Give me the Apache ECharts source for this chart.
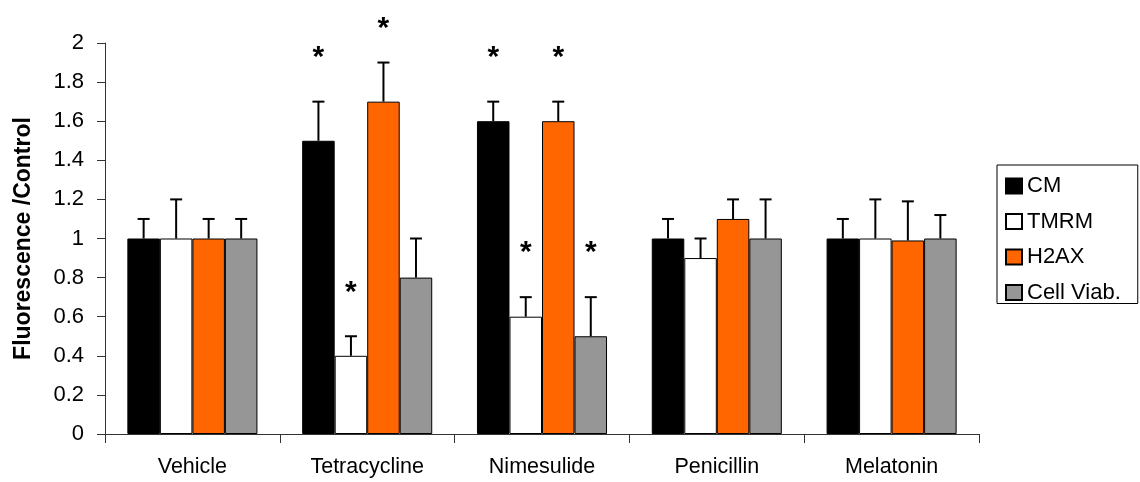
<!DOCTYPE html>
<html>
<head>
<meta charset="utf-8">
<script src="https://cdn.jsdelivr.net/npm/echarts@6/dist/echarts.min.js"></script>
<style>
html,body{margin:0;padding:0;background:#fff;}
#chart{width:1140px;height:482px;}
</style>
</head>
<body>
<div id="chart"></div>
<script>
const categories = ['Vehicle', 'Tetracycline', 'Nimesulide', 'Penicillin', 'Melatonin'];
const seriesNames = ['CM', 'TMRM', 'H2AX', 'Cell Viab.'];

const cmValues   = [1.0, 1.5, 1.6, 1.0, 1.0];
const cmErrors   = [0.1, 0.2, 0.1, 0.1, 0.1];
const cmSig      = [0, 1, 1, 0, 0];

const tmrmValues = [1.0, 0.4, 0.6, 0.9, 1.0];
const tmrmErrors = [0.2, 0.1, 0.1, 0.1, 0.2];
const tmrmSig    = [0, 1, 1, 0, 0];

const h2axValues = [1.0, 1.7, 1.6, 1.1, 0.99];
const h2axErrors = [0.1, 0.2, 0.1, 0.1, 0.2];
const h2axSig    = [0, 1, 1, 0, 0];

const viabValues = [1.0, 0.8, 0.5, 1.0, 1.0];
const viabErrors = [0.1, 0.2, 0.2, 0.2, 0.12];
const viabSig    = [0, 0, 1, 0, 0];

const yMin = 0, yMax = 2, yStep = 0.2;

const allValues = [cmValues, tmrmValues, h2axValues, viabValues];
const allErrors = [cmErrors, tmrmErrors, h2axErrors, viabErrors];
const allSig = [cmSig, tmrmSig, h2axSig, viabSig];
const colors = ['#000000', '#ffffff', '#ff6600', '#969696'];

const FONT = "'Liberation Sans', Arial, sans-serif";
const CAT_GAP = 0.256;

const errData = [];
allValues.forEach((vals, s) => {
  vals.forEach((v, c) => {
    errData.push([c, s, v, allErrors[s][c], allSig[s][c]]);
  });
});

const barSeries = seriesNames.map((name, s) => ({
  name: name,
  type: 'bar',
  data: allValues[s],
  barGap: '0%',
  barCategoryGap: (CAT_GAP * 100) + '%',
  itemStyle: { color: colors[s], borderColor: '#000', borderWidth: 1 },
  emphasis: { disabled: true },
  z: 2
}));

const chart = echarts.init(document.getElementById('chart'), null, { renderer: 'canvas' });

chart.setOption({
  animation: false,
  backgroundColor: '#fff',
  grid: { left: 105, top: 43, width: 874, height: 391, containLabel: false, outerBoundsMode: 'none' },
  legend: {
    data: seriesNames.map(n => ({ name: n, icon: 'rect' })),
    orient: 'vertical',
    left: 997,
    top: 165,
    itemWidth: 16,
    itemHeight: 15,
    itemGap: 13.5,
    padding: [10, 17, 0, 8],
    borderColor: '#000',
    borderWidth: 1,
    selectedMode: false,
    textStyle: { fontFamily: FONT, fontSize: 22, color: '#000' }
  },
  xAxis: {
    type: 'category',
    data: categories,
    boundaryGap: true,
    axisLine: { lineStyle: { color: '#333', width: 1 } },
    axisTick: { show: true, length: 9, inside: false, lineStyle: { color: '#333' } },
    axisLabel: { fontFamily: FONT, fontSize: 21.5, color: '#000', margin: 22, interval: 0 },
    splitLine: { show: false }
  },
  yAxis: {
    type: 'value',
    min: yMin,
    max: yMax,
    interval: yStep,
    name: 'Fluorescence /Control',
    nameLocation: 'middle',
    nameGap: 70,
    nameRotate: 90,
    nameTextStyle: { fontFamily: FONT, fontSize: 23, fontWeight: 'bold', color: '#000' },
    axisLine: { show: true, lineStyle: { color: '#333', width: 1 } },
    axisTick: { show: true, length: 8, lineStyle: { color: '#333' } },
    axisLabel: { fontFamily: FONT, fontSize: 22, color: '#000', margin: 21 },
    splitLine: { show: false }
  },
  series: barSeries.concat([{
    type: 'custom',
    data: errData,
    z: 5,
    silent: true,
    clip: false,
    renderItem: function (params, api) {
      const c = api.value(0), s = api.value(1), v = api.value(2), e = api.value(3), sig = api.value(4);
      const center = api.coord([c, 0]);
      const catW = api.size([1, 0])[0];
      const bw = catW * (1 - CAT_GAP) / 4;
      const x = center[0] + (s - 1.5) * bw;
      const yTop = api.coord([c, v])[1];
      const yCap = api.coord([c, v + e])[1];
      const capHalf = 6;
      const children = [
        { type: 'line', shape: { x1: x, y1: yTop, x2: x, y2: yCap }, style: { stroke: '#000', lineWidth: 2 } },
        { type: 'line', shape: { x1: x - capHalf, y1: yCap, x2: x + capHalf, y2: yCap }, style: { stroke: '#000', lineWidth: 2 } }
      ];
      if (sig) {
        const starCenter = Math.max(yCap - 51, 22);
        children.push({
          type: 'text',
          style: { text: '*', x: x, y: starCenter + 7, font: 'bold 30px ' + FONT, align: 'center', verticalAlign: 'middle', fill: '#000' }
        });
      }
      return { type: 'group', children: children };
    }
  }])
});
</script>
</body>
</html>
